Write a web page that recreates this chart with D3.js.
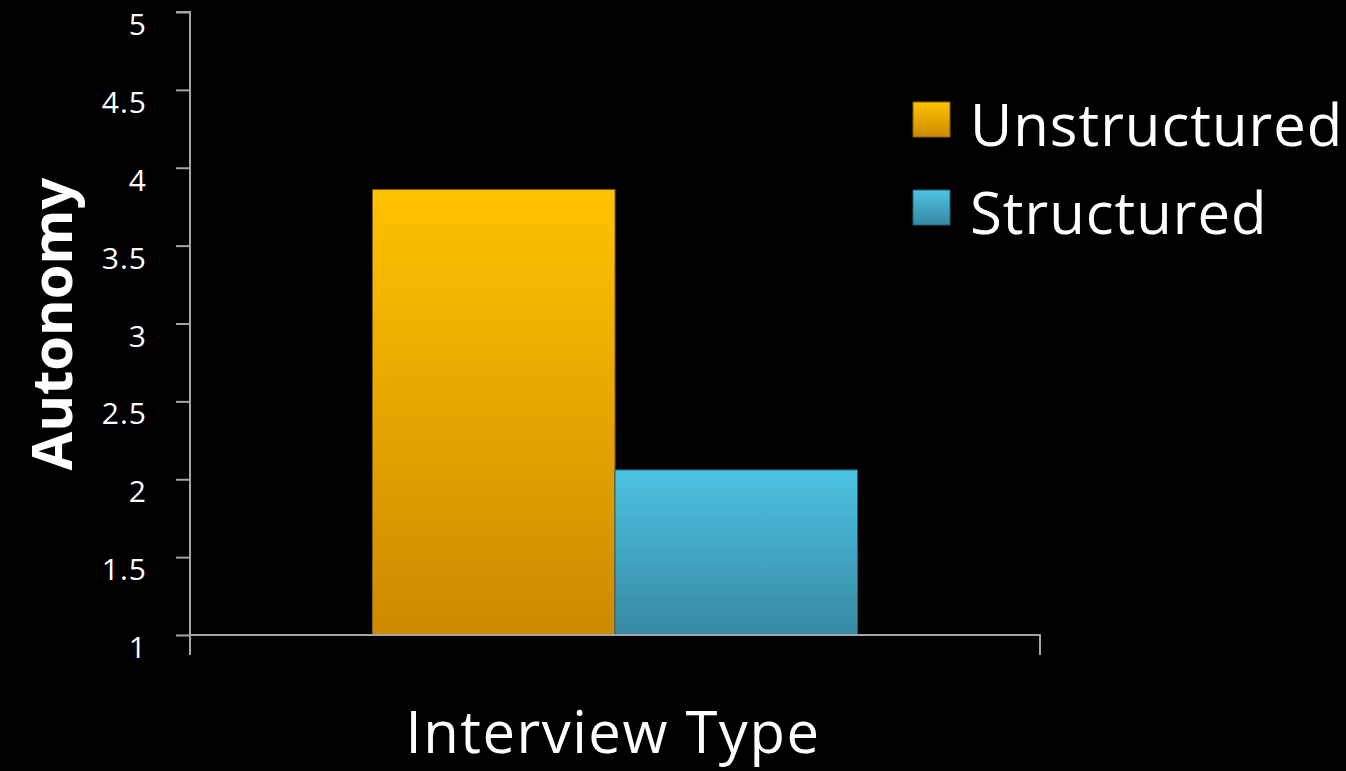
<!DOCTYPE html>
<html>
<head>
<meta charset="utf-8">
<script src="https://cdn.jsdelivr.net/npm/d3@7"></script>
<style>
  html, body { margin: 0; padding: 0; background: #000; }
  svg { display: block; }
</style>
</head>
<body>
<svg id="chart" width="1346" height="771"></svg>
<script>
// Chart data
const categories = ["Interview Type"];
const seriesNames = ["Unstructured", "Structured"];
const unstructuredValues = [3.86];
const structuredValues = [2.06];
const yTicks = [1, 1.5, 2, 2.5, 3, 3.5, 4, 4.5, 5];
const yTickLabels = ["1", "1.5", "2", "2.5", "3", "3.5", "4", "4.5", "5"];

const seriesValues = [unstructuredValues, structuredValues];
const gradients = [
  { id: "gradOrange", top: "#ffc200", bottom: "#cc8a00", stroke: "#8a5d00" },
  { id: "gradBlue", top: "#4cc3e2", bottom: "#3789a4", stroke: "#24606f" }
];

const svg = d3.select("#chart");
const font = "'Open Sans', Lato, sans-serif";

const plot = { left: 190, right: 1040, top: 12, bottom: 635 };

const defs = svg.append("defs");
gradients.forEach(g => {
  const lg = defs.append("linearGradient")
    .attr("id", g.id).attr("x1", 0).attr("y1", 0).attr("x2", 0).attr("y2", 1);
  lg.append("stop").attr("offset", "0%").attr("stop-color", g.top);
  lg.append("stop").attr("offset", "100%").attr("stop-color", g.bottom);
});

const y = d3.scaleLinear().domain([1, 5]).range([plot.bottom, plot.top]);
const x0 = d3.scaleBand().domain(categories).range([plot.left, plot.right])
  .paddingInner(0).paddingOuter(0.3763);
const x1 = d3.scaleBand().domain(seriesNames).range([0, x0.bandwidth()]).padding(0);

// Bars
const groups = svg.append("g").selectAll("g")
  .data(categories).join("g")
  .attr("transform", d => `translate(${x0(d)},0)`);

seriesNames.forEach((name, si) => {
  groups.append("rect")
    .attr("x", x1(name))
    .attr("y", (d, ci) => y(seriesValues[si][ci]))
    .attr("width", x1.bandwidth())
    .attr("height", (d, ci) => y(1) - y(seriesValues[si][ci]))
    .attr("fill", `url(#${gradients[si].id})`)
    .attr("stroke", gradients[si].stroke)
    .attr("stroke-width", 1);
});

// Y axis
const yAxis = d3.axisLeft(y)
  .tickValues(yTicks)
  .tickFormat((d, i) => yTickLabels[i])
  .tickSize(14)
  .tickPadding(29);

const yg = svg.append("g")
  .attr("transform", `translate(${plot.left},0)`)
  .call(yAxis);
yg.select(".domain").attr("stroke", "#a6a6a6").attr("stroke-width", 2)
  .attr("d", `M-14,${plot.top}H0V${plot.bottom + 20}`);
yg.selectAll(".tick line").attr("stroke", "#a6a6a6").attr("stroke-width", 2);
yg.selectAll(".tick text")
  .attr("fill", "#fff")
  .attr("font-family", font)
  .attr("font-size", 30)
  .attr("letter-spacing", 1)
  .attr("dy", "0.95em")
  .attr("y", -6);

// X axis
const xAxisLine = svg.append("g");
xAxisLine.append("path")
  .attr("d", `M${plot.left},${plot.bottom}H${plot.right}V${plot.bottom + 20}`)
  .attr("fill", "none")
  .attr("stroke", "#a6a6a6")
  .attr("stroke-width", 2);

// Axis titles
svg.append("text")
  .attr("x", 613)
  .attr("y", 753)
  .attr("text-anchor", "middle")
  .attr("fill", "#fff")
  .attr("font-family", font)
  .attr("font-size", 58)
  .attr("letter-spacing", 1.5)
  .text("Interview Type");

svg.append("text")
  .attr("transform", "translate(72,324) rotate(-90)")
  .attr("text-anchor", "middle")
  .attr("fill", "#fff")
  .attr("font-family", font)
  .attr("font-weight", "bold")
  .attr("font-size", 56)
  .text("Autonomy");

// Legend
const legend = svg.append("g").attr("transform", "translate(913,102)");
seriesNames.forEach((name, i) => {
  const item = legend.append("g").attr("transform", `translate(0,${i * 88})`);
  item.append("rect")
    .attr("width", 37).attr("height", 35)
    .attr("fill", `url(#${gradients[i].id})`)
    .attr("stroke", gradients[i].stroke)
    .attr("stroke-width", 1);
  item.append("text")
    .attr("x", 57)
    .attr("y", 44)
    .attr("fill", "#fff")
    .attr("font-family", font)
    .attr("font-size", 58)
    .attr("letter-spacing", 1)
    .text(name);
});
</script>
</body>
</html>
